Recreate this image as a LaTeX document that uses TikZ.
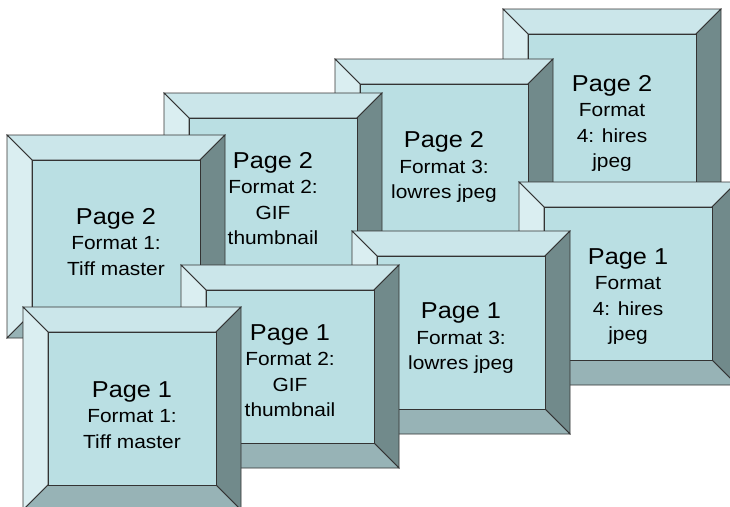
\documentclass[tikz,border=0pt]{standalone}
\usepackage{fontspec}
\setmainfont{Liberation Sans}
\newfontfamily\boxfont[FakeStretch=1.1]{Liberation Sans}
\definecolor{facec}{HTML}{BADFE3}
\definecolor{topc}{HTML}{CBE6EA}
\definecolor{leftc}{HTML}{DAEEF1}
\definecolor{rightc}{HTML}{718A8B}
\definecolor{botc}{HTML}{97B3B6}
\definecolor{edgec}{HTML}{333333}
\tikzset{
  bevline/.style={draw=edgec, line width=0.8pt, line join=miter},
  face/.style={bevline, fill=facec, minimum width=168pt, minimum height=153pt, inner sep=0pt, outer sep=0pt},
  boxtext/.style={align=center, font=\boxfont\fontsize{19}{25.5}\selectfont, text=black, inner sep=0pt},
}
\newcommand\bigline[1]{{\fontsize{23}{25.5}\selectfont #1}}
% #1 name, #2 x, #3 y (outer top-left), #4 text, #5 downward text shift
\newcommand\bevbox[5]{%
  \path[bevline, fill=topc] (#2,#3) -- ++(218,0) -- ++(-25,25) -- ++(-168,0) -- cycle;
  \path[bevline, fill=leftc] (#2,#3) -- ++(25,25) -- ++(0,153) -- ++(-25,25) -- cycle;
  \path[bevline, fill=rightc] (#2+218,#3) -- ++(0,203) -- ++(-25,-25) -- ++(0,-153) -- cycle;
  \path[bevline, fill=botc] (#2,#3+203) -- ++(218,0) -- ++(-25,-25) -- ++(-168,0) -- cycle;
  \node[face] (#1) at (#2+109,#3+101.5) {};
  \node[boxtext] (#1-t) at ([yshift=-#5pt]#1.center) {#4};
}
\begin{document}
\begin{tikzpicture}[x=1pt,y=-1pt]
\useasboundingbox (0,0) rectangle (730,506);
\clip (0,0) rectangle (730,506);
\fill[white] (0,0) rectangle (730,506);
% back row
\bevbox{g}{503}{9}{\bigline{Page 2}\\Format\\4: hires\\jpeg}{13}
\bevbox{e}{335}{59}{\bigline{Page 2}\\Format 3:\\lowres jpeg}{6.5}
\bevbox{c}{164}{93}{\bigline{Page 2}\\Format 2:\\GIF\\thumbnail}{4}
\bevbox{a}{7}{135}{\bigline{Page 2}\\Format 1:\\Tiff master}{5.5}
% front row
\bevbox{h}{519}{182}{\bigline{Page 1}\\Format\\4: hires\\jpeg}{13}
\bevbox{f}{352}{231}{\bigline{Page 1}\\Format 3:\\lowres jpeg}{6}
\bevbox{d}{181}{265}{\bigline{Page 1}\\Format 2:\\GIF\\thumbnail}{4}
\bevbox{b}{23}{307}{\bigline{Page 1}\\Format 1:\\Tiff master}{6.5}
\end{tikzpicture}
\end{document}
